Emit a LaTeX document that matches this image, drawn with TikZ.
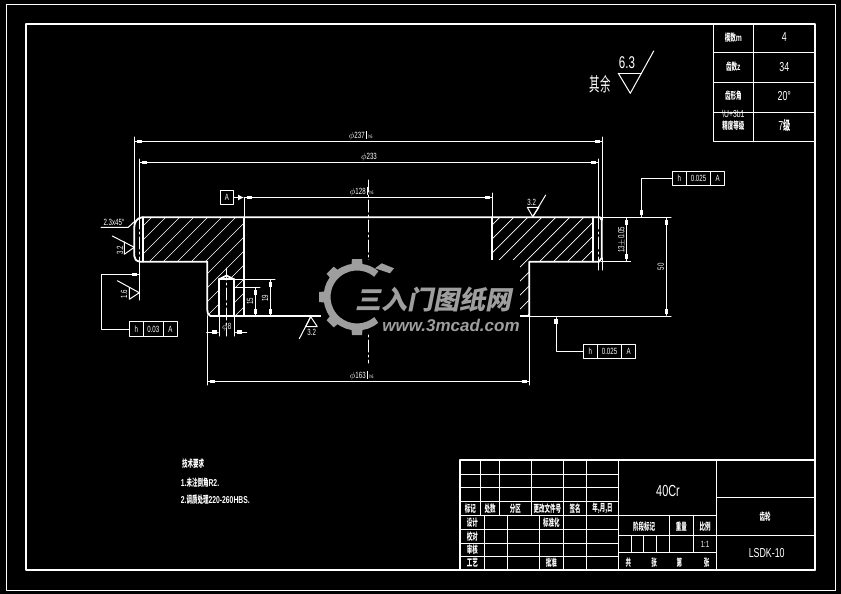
\documentclass[tikz,border=0pt]{standalone}
\usepackage{fontspec}
\usepackage[dvipsnames]{xcolor}
\usetikzlibrary{arrows.meta}
\usetikzlibrary{positioning}
\newfontfamily\cadfont[FakeStretch=0.68]{Liberation Sans}
\newfontfamily\cjkfont[FakeStretch=0.55]{Noto Sans CJK SC}
\newfontfamily\logofont[FakeSlant=0.2]{Noto Sans CJK SC}
\newfontfamily\weblogofont{Liberation Sans}
\definecolor{logogray}{rgb}{0.62,0.62,0.62}
\tikzset{
  >={Rectangle[length=5pt,width=3.4pt,sep=0pt]Rectangle[length=2.5pt,width=1pt,sep=0pt]},
  thinline/.style={color=white,line width=1pt},
  thickline/.style={color=white,line width=1.8pt},
  frameline/.style={color=white,line width=2pt},
  hatchline/.style={color=white,line width=0.7pt},
  centerline/.style={color=white,line width=1pt,dash pattern=on 12pt off 3pt on 2pt off 3pt},
  dimline/.style={color=white,line width=1pt,<->},
  leaderline/.style={color=white,line width=1pt,->},
  cadtext/.style={color=white,inner sep=0pt,font=\cadfont\fontsize{9}{9}\selectfont},
  zhtext/.style={color=white,inner sep=0pt,font=\cjkfont\bfseries\fontsize{10}{10}\selectfont},
  tolbox/.style={draw=white,line width=1pt,color=white,inner sep=0pt,outer sep=0pt,minimum height=14.5pt,font=\cadfont\fontsize{9}{9}\selectfont}
}
\begin{document}
\begin{tikzpicture}[line cap=round,line join=round,x=1pt,y=-1pt]
\useasboundingbox (0,0) rectangle (841,594);
\fill[black] (0,0) rectangle (841,594);
\draw[thinline] (6.2,4.2) rectangle (835,590);
\draw[frameline] (26,24.3) rectangle (815.3,569.5);
% hatching
\begin{scope}
\clip (143,217.3) -- (244,217.3) -- (244,316) -- (234,316) -- (234,279.3) -- (219,279.3) -- (219,316) -- (207.3,316) -- (207.3,261.7) -- (143,261.7) -- cycle;
\foreach \c in {369,383,...,565}
\draw[hatchline] (\c-327,327) -- (\c-207,207);
\end{scope}
\begin{scope}
\clip (492,217.3) -- (592.7,217.3) -- (592.7,261.7) -- (529.3,261.7) -- (529.3,316) -- (492,316) -- cycle;
\foreach \c in {703,717,...,899}
\draw[hatchline] (\c-327,327) -- (\c-207,207);
\end{scope}
% profile
\draw[thickline] (142,217.3) -- (600,217.3) -- (601.7,220) -- (601.7,258) -- (599,261.7) -- (529.3,261.7) -- (529.3,316) -- (210.5,316) .. controls (208,315) and (207.3,313) .. (207.3,310) -- (207.3,261.7) -- (140,261.7) .. controls (136,261) and (134.3,259) .. (134.3,256) -- (134.3,227) .. controls (134.3,222) and (137,218) .. (142,217.3);
\draw[thickline] (142.7,217.3) -- (142.7,261.7);
\draw[thickline] (244,217.3) -- (244,316);
\draw[thickline] (492,217.3) -- (492,260);
\draw[thickline] (592.7,217.3) -- (592.7,261.7);
\draw[thickline] (219,316) -- (219,279.3) -- (226.5,275.5) -- (234,279.3) -- (234,316);
\draw[thickline] (219,279.3) -- (234,279.3);
% centre lines
\draw[centerline] (368.3,180) -- (368.3,363);
\draw[centerline] (226.7,268) -- (226.7,336);
\draw[centerline] (139.3,217) -- (139.3,262);
\draw[centerline] (598.3,217) -- (598.3,262);
% extension lines
\draw[thinline] (134.3,137) -- (134.3,227);
\draw[thinline] (602.3,137) -- (602.3,220);
\draw[thinline] (602.3,258) -- (602.3,270);
\draw[thinline] (139.3,159) -- (139.3,217);
\draw[thinline] (139.3,262) -- (139.3,300);
\draw[thinline] (598.3,159) -- (598.3,217);
\draw[thinline] (598.3,262) -- (598.3,270);
\draw[thinline] (244,197.3) -- (244,217.3);
\draw[thinline] (492.3,193) -- (492.3,217.3);
\draw[thinline] (207.3,316) -- (207.3,385);
\draw[thinline] (529.3,316) -- (529.3,385);
\draw[thinline] (600,217.3) -- (671,217.3);
\draw[thinline] (529.3,316) -- (671,316);
\draw[thinline] (601,261.7) -- (630.7,261.7);
\draw[thinline] (234,279.3) -- (275,279.3);
\draw[thinline] (234,287.7) -- (260,287.7);
\draw[thinline] (219,316) -- (219,336);
\draw[thinline] (234,316) -- (234,336);
% dimensions
\draw[dimline] (134.3,141.3) -- (602.3,141.3);
\draw[dimline] (139.3,162.3) -- (598.3,162.3);
\draw[dimline] (244,197.3) -- (492.3,197.3);
\draw[dimline] (207.3,381.3) -- (529.3,381.3);
\draw[dimline] (666.3,217.3) -- (666.3,316);
\draw[dimline] (626.3,217.3) -- (626.3,261.7);
\draw[dimline] (270.3,279.3) -- (270.3,316);
\draw[dimline] (255.3,287.7) -- (255.3,316);
\draw[leaderline] (246.7,332) -- (234,332);
\draw[leaderline] (206.7,332) -- (219,332);
\node[cadtext] (dimA) at (360.7,135.5) {$\phi$237\,\rule{1pt}{8pt}\,{\fontsize{5}{5}\selectfont h6}};
\node[cadtext] (dimB) at (369,157) {$\phi$233};
\node[cadtext] (dimC) at (361.7,191.5) {$\phi$128\,\rule{1pt}{8pt}\,{\fontsize{5}{5}\selectfont h6}};
\node[cadtext] (dimD) at (361.7,375.7) {$\phi$163\,\rule{1pt}{8pt}\,{\fontsize{5}{5}\selectfont h6}};
\node[cadtext,rotate=90] (dimE) at (660.7,266.7) {50};
\node[cadtext,rotate=90] (dimF) at (621.7,240) {13$\pm$0.05};
\node[cadtext,rotate=90] (dimG) at (265,298) {19};
\node[cadtext,rotate=90] (dimH) at (250,301) {15};
\node[cadtext] (dimI) at (226.7,327) {$\phi$8};
\node[cadtext] (chamfer) at (114,222.5) {2.3x45\textdegree};
\draw[thinline] (101,227.3) -- (128.3,227.3) -- (134.3,221.7);
% surface marks
\draw[thinline] (112.3,236) -- (134.3,247.3) -- (124.3,254.3) -- (124.3,241.7);
\node[cadtext,rotate=90] (markA) at (120,250) {3.2};
\draw[thinline] (117.3,280.7) -- (139.3,292.7) -- (129.3,299.3) -- (129.3,287.7);
\node[cadtext,rotate=90] (markB) at (124,294) {1.6};
\draw[thinline] (527.3,207.3) -- (539,207.3) -- (532.7,216.7) -- (527.3,207.3);
\draw[thinline] (532.7,216.7) -- (545.7,195);
\node[cadtext] (markC) at (531.7,202.5) {3.2};
\draw[thinline] (305.7,326.7) -- (317.3,326.7) -- (310.7,316.7) -- (305.7,326.7);
\draw[thinline] (310.7,316.7) -- (299.3,338.7);
\node[cadtext] (markD) at (311.7,332.5) {3.2};
\draw[thinline] (618.3,73.3) -- (641.7,73.3);
\draw[thinline] (618.3,73.3) -- (630.3,93.3) -- (653.7,51);
\node[cadtext,font=\cadfont\fontsize{17}{17}\selectfont] (markE) at (627,63) {6.3};
\node[zhtext,font=\cjkfont\fontsize{19}{19}\selectfont] (markF) at (600,84) {其余};
% datum and tolerance frames
\node[tolbox,minimum width=13.5pt] (datumA) at (227,197.5) {A};
\coordinate (datumP) at (244,197.5);
\draw[thinline,-{Latex[length=6pt,width=6pt]}] (datumA) -- (datumP);
\node[tolbox,minimum width=14pt] (tolAh) at (136.3,329) {h};
\node[tolbox,minimum width=20pt,right=0pt of tolAh] (tolAv) {0.03};
\node[tolbox,minimum width=14.4pt,right=0pt of tolAv] (tolAd) {A};
\coordinate (tolAp) at (139.3,274.3);
\draw[leaderline] (tolAh.west) -- (101.3,329) -- (101.3,274.3) -- (tolAp);
\node[tolbox,minimum width=14pt] (tolBh) at (679.3,178.3) {h};
\node[tolbox,minimum width=24.4pt,right=0pt of tolBh] (tolBv) {0.025};
\node[tolbox,minimum width=14pt,right=0pt of tolBv] (tolBd) {A};
\coordinate (tolBp) at (641.3,217.3);
\draw[leaderline] (tolBh.west) -- (641.3,178.3) -- (tolBp);
\node[tolbox,minimum width=14pt] (tolCh) at (590.3,351.3) {h};
\node[tolbox,minimum width=24.4pt,right=0pt of tolCh] (tolCv) {0.025};
\node[tolbox,minimum width=14pt,right=0pt of tolCv] (tolCd) {A};
\coordinate (tolCp) at (556,316);
\draw[leaderline] (tolCh.west) -- (556,351.3) -- (tolCp);
% watermark
\fill[black] (320.5,260) rectangle (520,333);
\foreach \a in {90,135,180,225,270}
\fill[logogray,shift={(357,297)},rotate=\a] (28,-6) -- (38,-5) -- (38,5) -- (28,6) -- cycle;
\fill[logogray] (381.7,263.3) -- (394,268.3) -- (390,273.3) -- (375,268.3) -- cycle;
\draw[logogray,line width=7pt,line cap=butt] (376.3,274) arc[start angle=-50,end angle=-310,radius=30];
\node[color=logogray,inner sep=0pt,font=\logofont\bfseries\fontsize{26}{26}\selectfont] (logoA) at (433,300) {三入门图纸网};
\node[color=logogray,inner sep=0pt,font=\weblogofont\bfseries\itshape\fontsize{17}{17}\selectfont] (logoB) at (451,325) {www.3mcad.com};
% parameter table
\draw[thinline] (713.3,24.3) -- (713.3,141.7) -- (815,141.7);
\draw[thinline] (753.3,24.3) -- (753.3,141.7);
\foreach \y in {52.3,82.3,112.3}
\draw[thinline] (713.3,\y) -- (815,\y);
\node[zhtext] (parA) at (733.3,38) {模数{\cadfont m}};
\node[zhtext] (parB) at (733.3,67) {齿数{\cadfont z}};
\node[zhtext] (parC) at (733.3,96) {齿形角};
\node[cadtext,font=\cadfont\fontsize{10}{10}\selectfont] (parX) at (733.3,114) {\textbackslash U+3b1};
\node[zhtext] (parD) at (733.3,126) {精度等级};
\node[cadtext,font=\cadfont\fontsize{13}{13}\selectfont] (valA) at (784.3,37.5) {4};
\node[cadtext,font=\cadfont\fontsize{13}{13}\selectfont] (valB) at (784.3,67) {34};
\node[cadtext,font=\cadfont\fontsize{13}{13}\selectfont] (valC) at (784.3,96) {20\textdegree};
\node[cadtext,font=\cadfont\fontsize{13}{13}\selectfont] (valD) at (784.3,126) {7{\cjkfont\bfseries 级}};
% title block
\draw[frameline] (460,460) rectangle (815.3,569.5);
\foreach \x in {480.7,499.3,531.3}
\draw[thinline] (\x,460) -- (\x,515.3);
\foreach \x in {563.3,586.3}
\draw[thinline] (\x,460) -- (\x,569.5);
\draw[thinline] (618.7,460) -- (618.7,569.5);
\draw[thinline] (716.7,460) -- (716.7,569.5);
\foreach \y in {474.3,487.3,501.7}
\draw[thinline] (460,\y) -- (618.7,\y);
\foreach \y in {529.3,543.3,556.7}
\draw[thinline] (460,\y) -- (618.7,\y);
\draw[thinline] (460,515.3) -- (716.7,515.3);
\foreach \x in {484.7,507.3,539.3}
\draw[thinline] (\x,515.3) -- (\x,569.5);
\draw[thinline] (618.7,535.3) -- (815,535.3);
\draw[thinline] (618.7,552.7) -- (716.7,552.7);
\draw[thinline] (716.7,497.3) -- (815,497.3);
\foreach \x in {669.3,693.3}
\draw[thinline] (\x,515.3) -- (\x,552.7);
\foreach \x in {631.3,643.3,656.3}
\draw[thinline] (\x,535.3) -- (\x,552.7);
\node[cadtext,font=\cadfont\fontsize{16}{16}\selectfont] (material) at (668,490.5) {40Cr};
\node[cadtext,font=\cadfont\fontsize{13}{13}\selectfont] (drawno) at (766.7,553.3) {LSDK-10};
\node[zhtext] (partname) at (765,516.7) {齿轮};
\node[cadtext] (scale) at (705,544) {1:1};
\node[zhtext] (hA) at (470.3,508.5) {标记};
\node[zhtext] (hB) at (490,508.5) {处数};
\node[zhtext] (hC) at (515.3,508.5) {分区};
\node[zhtext] (hD) at (547.3,508.5) {更改文件号};
\node[zhtext] (hE) at (575,508.5) {签名};
\node[zhtext] (hF) at (602.5,508.5) {年,月,日};
\node[zhtext] (rA) at (472.3,522.3) {设计};
\node[zhtext] (rB) at (472.3,536.3) {校对};
\node[zhtext] (rC) at (472.3,550) {审核};
\node[zhtext] (rD) at (472.3,563) {工艺};
\node[zhtext] (rE) at (551.3,522.3) {标准化};
\node[zhtext] (rF) at (551.3,563) {批准};
\node[zhtext] (mA) at (644,526.7) {阶段标记};
\node[zhtext] (mB) at (681.3,526.7) {重量};
\node[zhtext] (mC) at (705,526.7) {比例};
\node[zhtext] (sA) at (628.3,562.7) {共};
\node[zhtext] (sB) at (654,562.7) {张};
\node[zhtext] (sC) at (679.3,562.7) {第};
\node[zhtext] (sD) at (706.7,562.7) {张};
% notes
\node[zhtext] (noteA) at (193,463.5) {技术要求};
\node[zhtext,anchor=west] (noteB) at (180.7,483) {{\cadfont 1.}未注倒角{\cadfont R2.}};
\node[zhtext,anchor=west] (noteC) at (180.7,500) {{\cadfont 2.}调质处理{\cadfont 220-260HBS.}};
\end{tikzpicture}
\end{document}
